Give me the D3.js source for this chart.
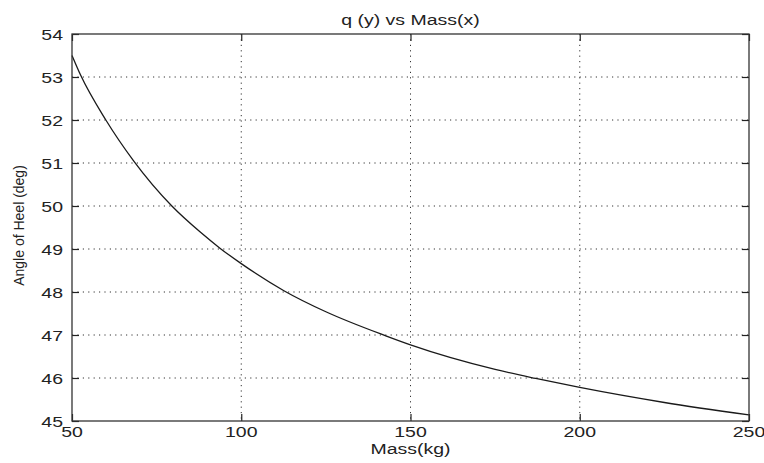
<!DOCTYPE html>
<html>
<head>
<meta charset="utf-8">
<script src="https://cdn.jsdelivr.net/npm/d3@7/dist/d3.min.js"></script>
<style>
  html, body { margin: 0; padding: 0; background: #fff; }
  svg { display: block; }
  text { font-family: "Liberation Sans", Arial, sans-serif; fill: #222; }
</style>
</head>
<body>
<svg id="chart" width="764" height="463"></svg>
<script>
// ---- data ----
const mass  = [50, 52.5, 60, 68.2, 79.5, 87.8, 93.7, 100, 112.6, 125, 142.7, 150, 175, 187, 200, 225, 250];
const angle = [53.5, 53.05, 52.0, 51.05, 50.0, 49.4, 49.02, 48.66, 48.03, 47.54, 46.98, 46.77, 46.2, 45.99, 45.78, 45.43, 45.14];
const xTicks = [50, 100, 150, 200, 250];
const yTicks = [45, 46, 47, 48, 49, 50, 51, 52, 53, 54];
const titleText = "q (y) vs Mass(x)";
const xLabel = "Mass(kg)";
const yLabel = "Angle of Heel (deg)";

// ---- layout ----
const L = 72, R = 749, T = 34, B = 421;
const sx = 1.3; // horizontal stretch of the reference text
const svg = d3.select("#chart");

const x = d3.scaleLinear().domain([50, 250]).range([L, R]);
const y = d3.scaleLinear().domain([45, 54]).range([B, T]);

// grid
const grid = svg.append("g").attr("stroke", "#333").attr("stroke-width", 1)
  .attr("stroke-dasharray", "1.2,4.2");
grid.selectAll(".gx").data(xTicks.slice(1, -1)).join("line")
  .attr("x1", d => x(d)).attr("x2", d => x(d)).attr("y1", T).attr("y2", B);
grid.selectAll(".gy").data(yTicks.slice(1, -1)).join("line")
  .attr("y1", d => y(d)).attr("y2", d => y(d)).attr("x1", L).attr("x2", R);

// curve
const pts = mass.map((m, i) => [m, angle[i]]);
svg.append("path").datum(pts)
  .attr("fill", "none").attr("stroke", "#1a1a1a").attr("stroke-width", 1.3)
  .attr("d", d3.line().x(d => x(d[0])).y(d => y(d[1])).curve(d3.curveMonotoneX));

// axes with inward ticks on all four sides
const tl = 7;
const axStyle = g => {
  g.select(".domain").remove();
  g.selectAll(".tick line").attr("stroke", "#222").attr("stroke-width", 1.2);
  g.selectAll("text").remove();
};
svg.append("g").attr("transform", `translate(0,${B})`)
  .call(d3.axisBottom(x).tickValues(xTicks).tickSize(-tl)).call(axStyle);
svg.append("g").attr("transform", `translate(0,${T})`)
  .call(d3.axisTop(x).tickValues(xTicks).tickSize(-tl)).call(axStyle);
svg.append("g").attr("transform", `translate(${L},0)`)
  .call(d3.axisLeft(y).tickValues(yTicks).tickSize(-tl)).call(axStyle);
svg.append("g").attr("transform", `translate(${R},0)`)
  .call(d3.axisRight(y).tickValues(yTicks).tickSize(-tl)).call(axStyle);

// box
svg.append("rect").attr("x", L).attr("y", T).attr("width", R - L).attr("height", B - T)
  .attr("fill", "none").attr("stroke", "#333").attr("stroke-width", 1.3);

// tick labels
const fs = 15;
svg.append("g").selectAll("text").data(xTicks).join("text")
  .attr("transform", d => `translate(${x(d)},${B + 16}) scale(${sx},1)`)
  .attr("text-anchor", "middle").attr("font-size", fs)
  .text(d => d);
svg.append("g").selectAll("text").data(yTicks).join("text")
  .attr("transform", d => `translate(${L - 9},${y(d) + 5.5}) scale(${sx},1)`)
  .attr("text-anchor", "end").attr("font-size", fs)
  .text(d => d);

// title & labels
svg.append("text")
  .attr("transform", `translate(${(L + R) / 2},25) scale(${sx},1)`)
  .attr("text-anchor", "middle").attr("font-size", fs).text(titleText);
svg.append("text")
  .attr("transform", `translate(${(L + R) / 2},454) scale(${sx},1)`)
  .attr("text-anchor", "middle").attr("font-size", fs).text(xLabel);
svg.append("text")
  .attr("transform", `translate(24,${(T + B) / 2 - 2}) rotate(-90)`)
  .attr("text-anchor", "middle").attr("font-size", 14).text(yLabel);
</script>
</body>
</html>
